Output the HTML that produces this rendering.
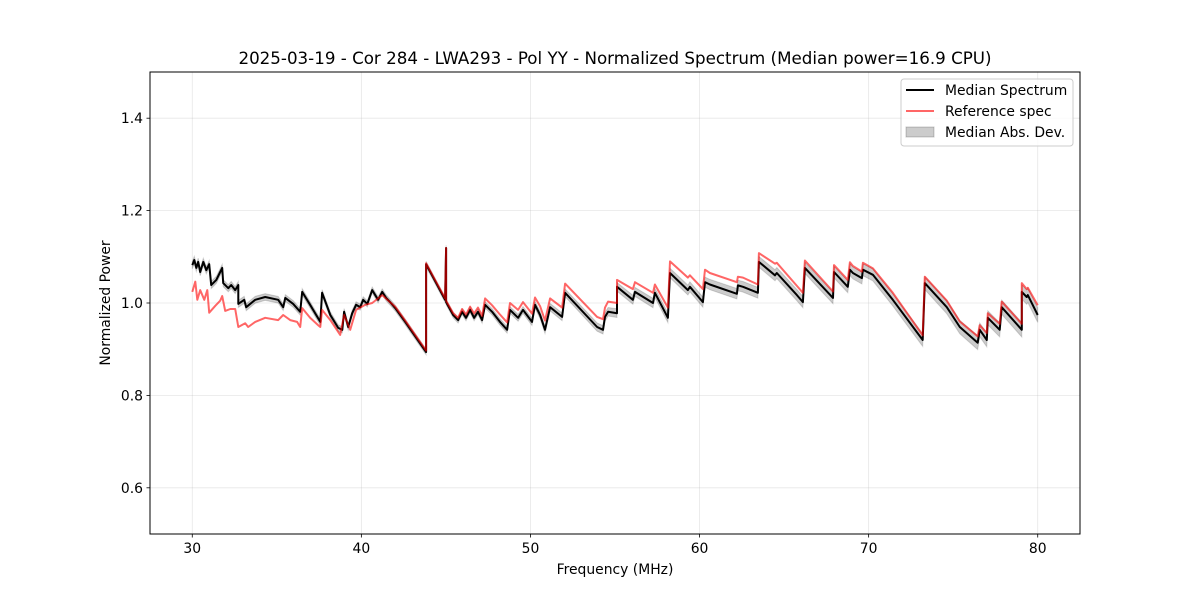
<!DOCTYPE html>
<html><head><meta charset="utf-8"><style>
body{margin:0;background:#fff;}
svg text{font-family:"DejaVu Sans","Liberation Sans",sans-serif;fill:#000;}
</style></head><body>
<svg id="chart" width="1200" height="600" viewBox="0 0 1200 600" xmlns="http://www.w3.org/2000/svg">
<rect width="1200" height="600" fill="#fff"/>
<g id="grid"></g>
<g id="plot"></g>
<rect x="150" y="72" width="930" height="462" fill="none" stroke="#000" stroke-width="1"/>
<g id="ticks"></g>
<text x="615" y="64" text-anchor="middle" font-size="16.7">2025-03-19 - Cor 284 - LWA293 - Pol YY - Normalized Spectrum (Median power=16.9 CPU)</text>
<text x="615" y="574" text-anchor="middle" font-size="13.9">Frequency (MHz)</text>
<text x="0" y="0" transform="translate(110,303) rotate(-90)" text-anchor="middle" font-size="13.9">Normalized Power</text>
<g>
<rect x="901" y="79" width="172" height="67" rx="3" fill="#fff" fill-opacity="0.8" stroke="#ccc"/>
<g><line x1="906" y1="90" x2="934" y2="90" stroke="#000" stroke-width="2"/><text x="945" y="95" font-size="13.9">Median Spectrum</text></g>
<g><line x1="906" y1="111" x2="934" y2="111" stroke="#ff0000" stroke-opacity="0.6" stroke-width="2"/><text x="945" y="116" font-size="13.9">Reference spec</text></g>
<g><rect x="906" y="127" width="28" height="10" fill="#000" fill-opacity="0.2" stroke="#000" stroke-opacity="0.2"/><text x="945" y="137" font-size="13.9">Median Abs. Dev.</text></g>
</g>
</svg>
<script>
const medFreq=[30.00,30.12,30.24,30.35,30.47,30.65,30.83,31.00,31.12,31.42,31.65,31.77,31.83,32.13,32.30,32.54,32.72,32.72,33.07,33.19,33.72,34.31,35.08,35.38,35.50,35.97,36.38,36.50,36.97,37.57,37.68,38.16,38.63,38.87,38.98,39.22,39.46,39.69,39.93,40.11,40.35,40.64,40.99,41.23,41.47,41.70,42.00,42.59,43.83,43.83,44.95,45.01,45.01,45.43,45.72,45.96,46.19,46.43,46.67,46.90,47.14,47.32,47.73,48.20,48.62,48.79,49.27,49.56,50.09,50.27,50.57,50.86,51.16,51.87,52.05,53.94,54.29,54.41,54.59,55.12,55.12,56.06,56.18,57.25,57.36,58.13,58.25,59.31,59.43,60.20,60.32,60.61,62.21,62.27,62.57,63.45,63.51,64.46,64.57,65.76,66.11,66.23,67.89,67.95,68.77,68.89,69.07,69.60,69.66,70.25,71.43,73.20,73.32,74.62,75.39,76.45,76.57,76.99,77.05,77.75,77.87,79.06,79.06,79.35,79.41,80.00];
const medPower=[1.082,1.093,1.076,1.089,1.067,1.089,1.071,1.084,1.039,1.050,1.067,1.076,1.043,1.032,1.039,1.028,1.039,0.998,1.007,0.991,1.007,1.013,1.007,0.991,1.011,0.998,0.981,1.024,0.996,0.959,1.022,0.974,0.946,0.942,0.981,0.948,0.978,0.996,0.991,1.007,0.998,1.028,1.007,1.024,1.011,1.002,0.989,0.959,0.894,1.084,1.007,1.119,1.002,0.974,0.963,0.981,0.968,0.985,0.968,0.981,0.963,0.996,0.981,0.959,0.942,0.985,0.968,0.985,0.959,0.996,0.974,0.942,0.991,0.970,1.022,0.948,0.942,0.970,0.981,0.978,1.035,1.007,1.024,1.000,1.022,0.968,1.065,1.028,1.035,1.002,1.045,1.040,1.020,1.038,1.035,1.022,1.089,1.060,1.065,1.017,1.002,1.076,1.011,1.067,1.035,1.072,1.065,1.054,1.072,1.061,1.007,0.920,1.043,0.991,0.948,0.914,0.942,0.920,0.968,0.942,0.991,0.942,1.024,1.013,1.017,0.974];
const refFreq=[30.00,30.18,30.30,30.47,30.71,30.89,31.00,31.36,31.65,31.77,31.95,32.25,32.54,32.72,33.13,33.31,33.72,34.31,35.08,35.38,35.79,36.20,36.38,36.50,36.97,37.45,37.57,37.68,38.16,38.75,38.98,39.34,39.69,40.23,40.64,41.23,42.00,42.59,43.83,43.83,44.95,45.01,45.01,45.43,45.72,45.96,46.19,46.43,46.67,46.90,47.14,47.32,47.73,48.20,48.62,48.79,49.27,49.56,50.09,50.27,50.57,50.86,51.16,51.87,52.05,53.94,54.29,54.41,54.59,55.12,55.12,56.06,56.18,57.25,57.36,58.13,58.25,59.31,59.43,60.20,60.32,60.61,62.21,62.27,62.57,63.45,63.51,64.46,64.57,65.76,66.11,66.23,67.89,67.95,68.77,68.89,69.07,69.60,69.66,70.25,71.43,73.20,73.32,74.62,75.39,76.45,76.57,76.99,77.05,77.75,77.87,79.06,79.06,79.35,79.41,80.00];
const refPower=[1.024,1.046,1.007,1.028,1.007,1.028,0.979,0.994,1.005,1.015,0.983,0.987,0.987,0.948,0.956,0.948,0.959,0.968,0.963,0.974,0.963,0.959,0.948,0.989,0.968,0.952,0.948,0.985,0.963,0.931,0.974,0.942,0.985,0.996,1.000,1.017,0.992,0.962,0.897,1.086,1.010,1.119,1.005,0.978,0.968,0.987,0.975,0.992,0.977,0.990,0.972,1.010,0.995,0.975,0.958,1.000,0.985,1.002,0.977,1.012,0.993,0.962,1.010,0.990,1.042,0.970,0.965,0.990,1.003,1.000,1.050,1.030,1.045,1.022,1.040,0.990,1.090,1.055,1.060,1.030,1.072,1.065,1.045,1.057,1.055,1.040,1.108,1.085,1.087,1.037,1.022,1.092,1.025,1.082,1.050,1.088,1.080,1.068,1.087,1.075,1.022,0.930,1.057,1.005,0.960,0.928,0.952,0.935,0.978,0.955,1.003,0.955,1.043,1.030,1.033,0.995];
const madFreq=[30,45,60,70,80];
const madVal=[0.008,0.006,0.011,0.013,0.016];
const xTicks=[30,40,50,60,70,80];
const yTicks=[0.6,0.8,1.0,1.2,1.4];
const yTickLabels=["0.6","0.8","1.0","1.2","1.4"];

const X0=150,X1=1080,Y0=72,Y1=534,xMin=27.5,xMax=82.5,yMin=0.5,yMax=1.5;
const sx=v=>X0+(v-xMin)/(xMax-xMin)*(X1-X0);
const sy=v=>Y1-(v-yMin)/(yMax-yMin)*(Y1-Y0);
const NS="http://www.w3.org/2000/svg";
function mk(tag,attrs,parent){const e=document.createElementNS(NS,tag);for(const k in attrs)e.setAttribute(k,attrs[k]);parent.appendChild(e);return e;}
function madAt(f){for(let i=0;i<madFreq.length-1;i++){if(f<=madFreq[i+1]){const t=(f-madFreq[i])/(madFreq[i+1]-madFreq[i]);return madVal[i]+t*(madVal[i+1]-madVal[i]);}}return madVal[madVal.length-1];}
const grid=document.getElementById('grid'),ticks=document.getElementById('ticks'),plot=document.getElementById('plot');
xTicks.forEach(t=>{
 const gl=mk('line',{x1:sx(t),x2:sx(t),y1:Y0,y2:Y1,stroke:'#b0b0b0','stroke-opacity':0.3,'stroke-width':0.8},grid);
 
 
 mk('line',{x1:sx(t),x2:sx(t),y1:Y1,y2:Y1+3.5,stroke:'#000','stroke-width':0.8},ticks);
 const tx=mk('text',{x:sx(t),y:Y1+19,'text-anchor':'middle','font-size':13.9},ticks);
 tx.textContent=t;
 
 
});
yTicks.forEach((t,i)=>{
 const gl=mk('line',{x1:X0,x2:X1,y1:sy(t),y2:sy(t),stroke:'#b0b0b0','stroke-opacity':0.3,'stroke-width':0.8},grid);
 
 
 mk('line',{x1:X0-3.5,x2:X0,y1:sy(t),y2:sy(t),stroke:'#000','stroke-width':0.8},ticks);
 const tx=mk('text',{x:X0-7,y:sy(t)+5,'text-anchor':'end','font-size':13.9},ticks);
 tx.textContent=yTickLabels[i];
 
 
});
let up=[],dn=[];
medFreq.forEach((f,i)=>{const m=madAt(f);up.push(sx(f).toFixed(1)+','+sy(medPower[i]+m).toFixed(1));dn.unshift(sx(f).toFixed(1)+','+sy(medPower[i]-m).toFixed(1));});
const band=mk('polygon',{points:up.concat(dn).join(' '),fill:'#000','fill-opacity':0.2,stroke:'#000','stroke-opacity':0.15,'stroke-width':1},plot);


const med=mk('polyline',{points:medFreq.map((f,i)=>sx(f).toFixed(1)+','+sy(medPower[i]).toFixed(1)).join(' '),fill:'none',stroke:'#000','stroke-width':2,'stroke-linejoin':'round'},plot);


const ref=mk('polyline',{points:refFreq.map((f,i)=>sx(f).toFixed(1)+','+sy(refPower[i]).toFixed(1)).join(' '),fill:'none',stroke:'#ff0000','stroke-opacity':0.6,'stroke-width':2,'stroke-linejoin':'round'},plot);


</script>
</body></html>
